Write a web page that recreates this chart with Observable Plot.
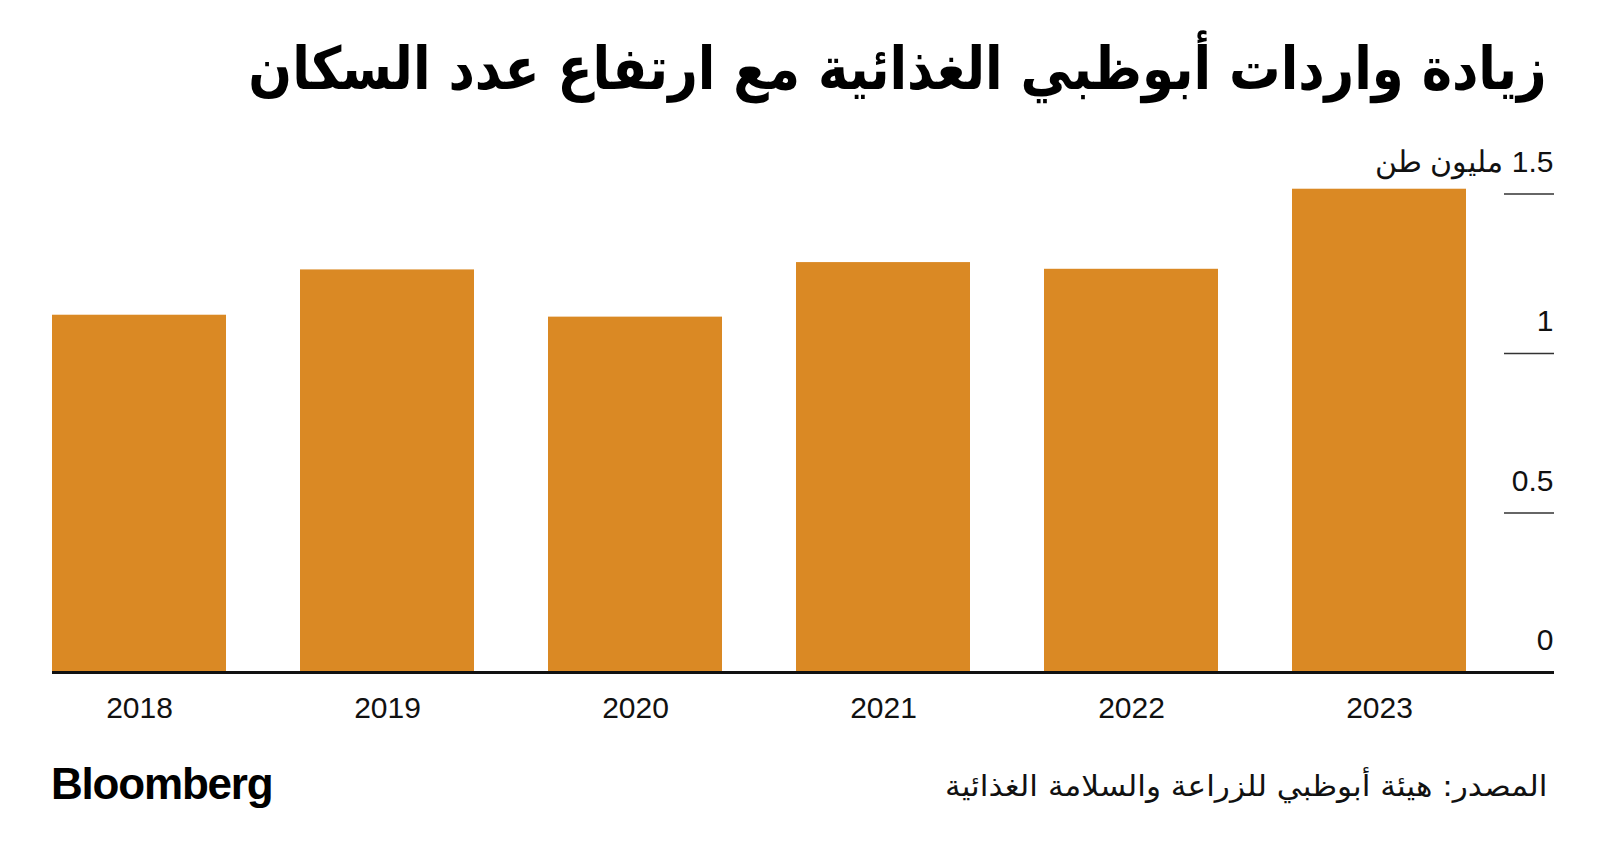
<!DOCTYPE html>
<html>
<head>
<meta charset="utf-8">
<script src="https://cdn.jsdelivr.net/npm/d3@7"></script>
<script src="https://cdn.jsdelivr.net/npm/@observablehq/plot@0.6"></script>
<style>
  html, body { margin: 0; padding: 0; background: #fff; width: 1600px; height: 863px; overflow: hidden; }
  #title { position: absolute; right: 53px; top: 31px; direction: rtl; font-family: "DejaVu Sans", sans-serif; font-weight: bold; font-size: 59px; color: #000; white-space: nowrap; line-height: 1.3; transform: scaleX(0.871); transform-origin: right center; }
  #chart { position: absolute; left: 0; top: 130px; }
  #logo { position: absolute; left: 51px; top: 762px; font-family: "Liberation Sans", Arial, sans-serif; font-weight: bold; font-size: 44px; letter-spacing: -1.2px; color: #000; line-height: 1; }
  #source { position: absolute; right: 53px; top: 769px; direction: rtl; font-family: "DejaVu Sans", sans-serif; font-size: 29px; color: #111; white-space: nowrap; transform: scaleX(1.075); transform-origin: right center; }
</style>
</head>
<body>
<div id="title">زيادة واردات أبوظبي الغذائية مع ارتفاع عدد السكان</div>
<div id="chart"></div>
<div id="logo">Bloomberg</div>
<div id="source">المصدر: هيئة أبوظبي للزراعة والسلامة الغذائية</div>
<script>
const years = ["2018", "2019", "2020", "2021", "2022", "2023"];
const imports = [1.12, 1.262, 1.114, 1.285, 1.264, 1.515];
const yTicks = [0.5, 1, 1.5];
const unitLabel = "مليون طن";

const data = years.map((y, i) => ({year: y, value: imports[i]}));
const fmt = d => d === 1.5 ? "\u200F1.5 " + unitLabel : String(d);

const plot = Plot.plot({
  width: 1600,
  height: 602,
  marginTop: 63.5,
  marginBottom: 60,
  marginLeft: 52,
  marginRight: 97,
  style: {fontFamily: "'Liberation Sans Narrow', 'Liberation Sans', sans-serif", fontSize: "30px", color: "#111", background: "#fff"},
  x: {domain: years, paddingInner: 0.3, paddingOuter: 0.0705, align: 0, label: null},
  y: {domain: [0, 1.5], label: null},
  marks: [
    Plot.barY(data, {x: "year", y: "value", fill: "#DA8924"}),
    Plot.ruleY([0], {stroke: "#111", strokeWidth: 3, insetRight: -2}),
    Plot.axisY(yTicks, {anchor: "right", tickSize: 50, fill: "none", stroke: "#333", strokeWidth: 1.5, label: null}),
    Plot.axisY([0], {anchor: "right", tickSize: 50, fill: "none", stroke: "#111", strokeWidth: 3, label: null}),
    Plot.axisY([0, ...yTicks], {anchor: "right", tickSize: 50, tickPadding: 0, stroke: "none", textAnchor: "end", dy: -32, tickFormat: fmt, label: null}),
    Plot.axisX({tickSize: 0, tickPadding: 24, label: null})
  ]
});
document.getElementById("chart").appendChild(plot);
</script>
</body>
</html>
